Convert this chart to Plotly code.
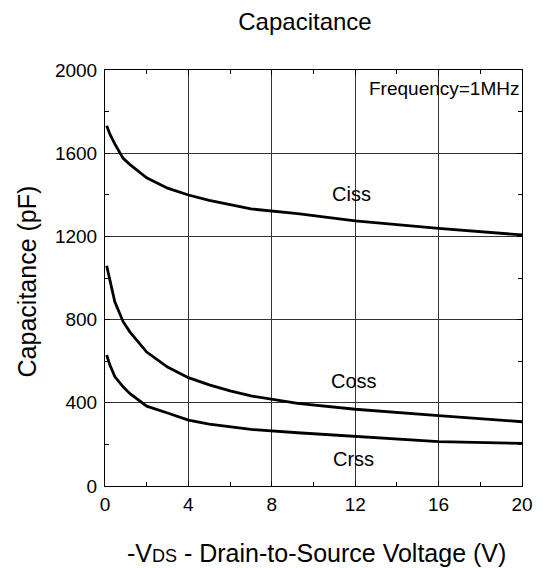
import plotly.graph_objects as go

vds = [0.08, 0.24, 0.47, 0.87, 1.2, 2, 3, 4, 5, 6, 7, 9.24, 12, 16, 20]
ciss = [1732, 1690, 1645, 1575, 1545, 1482, 1432, 1399, 1373, 1351, 1332, 1309, 1275, 1239, 1207]
coss = [1059, 982, 886, 790, 740, 644, 572, 521, 486, 457, 433, 397, 369, 338, 309]
crss = [630, 580, 526, 477, 444, 384, 351, 317, 298, 285, 272, 256, 237, 213, 205]

x_ticks = [0, 4, 8, 12, 16, 20]
y_ticks = [0, 400, 800, 1200, 1600, 2000]

font = "Liberation Sans, Arial, sans-serif"

fig = go.Figure()
for name, ys in [("Ciss", ciss), ("Coss", coss), ("Crss", crss)]:
    fig.add_trace(go.Scatter(x=vds, y=ys, mode="lines", name=name,
                             line=dict(color="black", width=2.8), showlegend=False))

fig.add_annotation(x=11.8, y=1405, text="Ciss", showarrow=False, yanchor="middle",
                   font=dict(size=20, color="black"))
fig.add_annotation(x=11.95, y=505, text="Coss", showarrow=False, yanchor="middle",
                   font=dict(size=20, color="black"))
fig.add_annotation(x=11.9, y=130, text="Crss", showarrow=False, yanchor="middle",
                   font=dict(size=20, color="black"))
fig.add_annotation(xref="paper", x=0.998, y=1910, text="Frequency=1MHz", showarrow=False,
                   xanchor="right", yanchor="middle", font=dict(size=19, color="black"))

# axis titles
fig.add_annotation(xref="paper", yref="paper", x=0.506, y=-0.161, showarrow=False,
                   text="-V<span style='font-size:18px'>DS</span> - Drain-to-Source Voltage (V)",
                   xanchor="center", yanchor="middle", font=dict(size=25, color="black"))
fig.add_annotation(xref="paper", yref="paper", x=-0.1848, y=0.4916, showarrow=False,
                   text="Capacitance (pF)", textangle=-90,
                   xanchor="center", yanchor="middle", font=dict(size=25, color="black"))

axis_common = dict(showline=True, linecolor="black", linewidth=1, mirror="allticks",
                   ticks="inside", ticklen=5, tickcolor="black",
                   showgrid=True, gridcolor="#333", gridwidth=1, zeroline=False,
                   tickfont=dict(size=19, color="black"))

fig.update_xaxes(range=[0, 20], tickvals=x_ticks, ticktext=[str(v) for v in x_ticks],
                 minor=dict(dtick=2, tick0=0, ticks="inside", ticklen=4, tickcolor="black", showgrid=False),
                 ticklabelstandoff=1, **axis_common)
fig.update_yaxes(range=[0, 2000], tickvals=y_ticks, ticktext=[str(v) for v in y_ticks],
                 minor=dict(dtick=200, tick0=0, ticks="inside", ticklen=4, tickcolor="black", showgrid=False),
                 ticklabelstandoff=3, **axis_common)

fig.update_layout(
    width=537, height=560,
    margin=dict(l=97, r=18, t=62, b=82),
    paper_bgcolor="white", plot_bgcolor="white",
    font=dict(family=font, color="black"),
    title=dict(text="Capacitance", x=0.553, xanchor="center", y=0.975, yanchor="middle",
               font=dict(size=24, color="black")),
)

fig.write_html("out.html")
